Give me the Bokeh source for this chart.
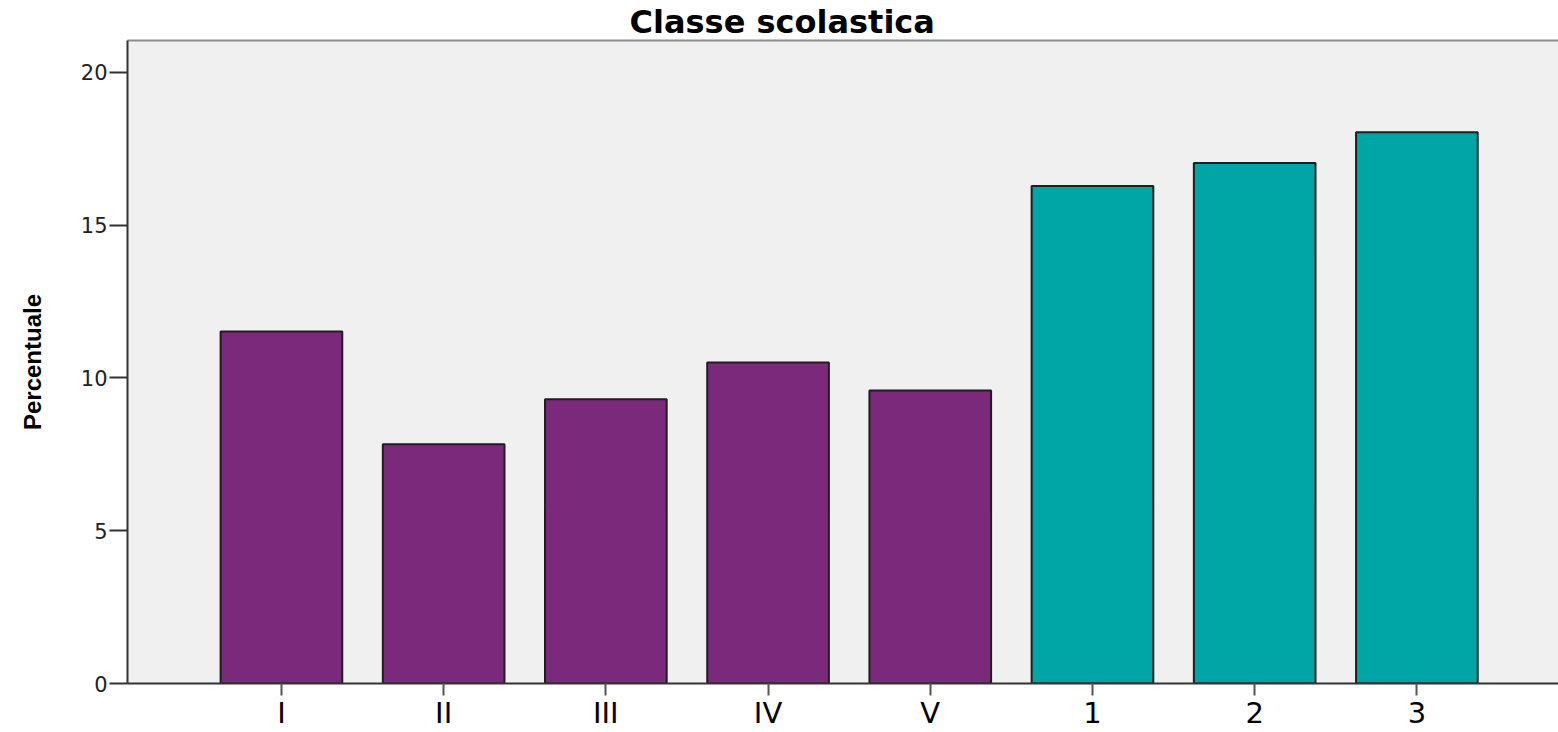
from bokeh.plotting import figure
from bokeh.models import Range1d, LinearAxis, FixedTicker, Title, ColumnDataSource
from bokeh.embed import file_html
from bokeh.resources import INLINE

# ---- data ----
categories = ["I", "II", "III", "IV", "V", "1", "2", "3"]
values = [11.52, 7.83, 9.30, 10.50, 9.59, 16.28, 17.03, 18.04]
groups = ["Primaria", "Primaria", "Primaria", "Primaria", "Primaria",
          "Secondaria", "Secondaria", "Secondaria"]
y_ticks = [0, 5, 10, 15, 20]

palette = {"Primaria": "#7b2a7b", "Secondaria": "#00a6a6"}

xs = list(range(len(categories)))
source = ColumnDataSource(dict(
    x=xs, top=values, cat=categories,
    color=[palette[g] for g in groups],
))

p = figure(width=1558, height=732,
           x_range=Range1d(-0.949, 7.873), y_range=Range1d(0, 21.04),
           output_backend="svg", toolbar_location=None,
           min_border_left=127, min_border_right=0,
           min_border_top=0, min_border_bottom=0,
           background_fill_color="#f0f0f0", border_fill_color="white",
           outline_line_color=None)

p.title = Title(text="Classe scolastica", align="left", offset=502,
                text_font="DejaVu Sans", text_font_size="32px",
                text_font_style="bold", text_color="#000000", standoff=0)

p.vbar(x="x", top="top", width=0.75, source=source,
       fill_color="color", line_color="#1e1e1e", line_width=2)

p.xgrid.visible = False
p.ygrid.visible = False

# x axis
xa = p.xaxis[0]
xa.ticker = FixedTicker(ticks=xs)
xa.major_label_overrides = {i: c for i, c in zip(xs, categories)}
xa.major_label_text_font = "DejaVu Sans"
xa.major_label_text_font_size = "29px"
xa.major_label_text_color = "#000000"
xa.major_label_standoff = 0
xa.major_tick_out = 12
xa.major_tick_in = 0
xa.major_tick_line_color = "#555555"
xa.major_tick_line_width = 2
xa.minor_tick_line_color = None
xa.axis_line_color = "#333333"
xa.axis_line_width = 2

# y axis
ya = p.yaxis[0]
ya.ticker = FixedTicker(ticks=y_ticks)
ya.major_label_text_font = "DejaVu Sans"
ya.major_label_text_font_size = "21px"
ya.major_label_text_color = "#222222"
ya.major_label_standoff = 2
ya.major_tick_out = 18
ya.major_tick_in = 0
ya.major_tick_line_color = "#333333"
ya.major_tick_line_width = 2
ya.minor_tick_line_color = None
ya.axis_line_color = "#333333"
ya.axis_line_width = 2
ya.axis_label = "Percentuale"
ya.axis_label_text_font = "Liberation Sans"
ya.axis_label_text_font_size = "24px"
ya.axis_label_text_font_style = "bold"
ya.axis_label_text_color = "#000000"
ya.axis_label_standoff = 32

# top border line
top = LinearAxis(ticker=FixedTicker(ticks=[]), axis_line_color="#8c8c8c",
                 axis_line_width=2, major_tick_line_color=None,
                 minor_tick_line_color=None, major_label_text_font_size="0px")
p.add_layout(top, "above")

open("out.html", "w").write(file_html(p, INLINE))
